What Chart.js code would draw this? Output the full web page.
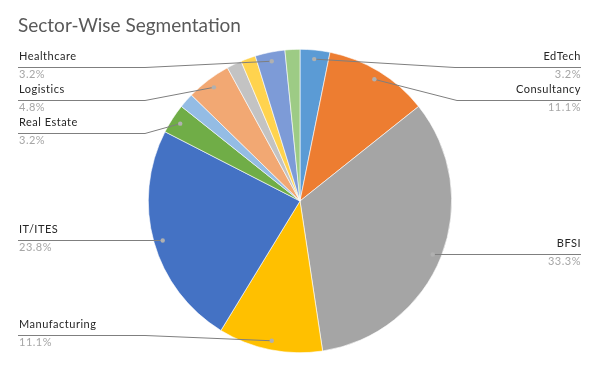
<!DOCTYPE html>
<html>
<head>
<meta charset="utf-8">
<script src="https://cdn.jsdelivr.net/npm/chart.js@4.4.1/dist/chart.umd.min.js"></script>
<style>
  html, body { margin: 0; padding: 0; background: #ffffff; }
  #wrap { width: 600px; height: 371px; position: relative; }
</style>
</head>
<body>
<div id="wrap"><canvas id="c" width="600" height="371"></canvas></div>
<script>
// ---- data (clockwise from 12 o'clock) ----
const categories = ["EdTech", "Consultancy", "BFSI", "Manufacturing", "IT/ITES", "Real Estate",
                    "Other 1", "Logistics", "Other 2", "Other 3", "Healthcare", "Other 4"];
const companyCounts = [2, 7, 21, 7, 15, 2, 1, 3, 1, 1, 2, 1];
const sliceColors = ["#5B9BD5", "#ED7D31", "#A5A5A5", "#FFC000", "#4472C4", "#70AD47",
                     "#94BCE4", "#F2A873", "#C3C3C3", "#FFD34E", "#7D9BD7", "#9DCB85"];
const chartTitle = "Sector-Wise Segmentation";

// label layout (which side, leader line y, bend x)
const labelLayout = {
  "Healthcare":    { side: "L", y: 67,  bend: 145 },
  "Logistics":     { side: "L", y: 100, bend: 145 },
  "Real Estate":   { side: "L", y: 133, bend: 145 },
  "IT/ITES":       { side: "L", y: 240, bend: null },
  "Manufacturing": { side: "L", y: 335, bend: 145 },
  "EdTech":        { side: "R", y: 67,  bend: 455 },
  "Consultancy":   { side: "R", y: 100, bend: 457 },
  "BFSI":          { side: "R", y: 254, bend: null }
};

const FONT = "Lato, 'Open Sans', 'DejaVu Sans', sans-serif";

const labelPlugin = {
  id: 'excelLabels',
  afterDraw(chart) {
    const ctx = chart.ctx;
    const meta = chart.getDatasetMeta(0);
    const total = companyCounts.reduce((a, b) => a + b, 0);
    ctx.save();
    // title
    ctx.fillStyle = '#595959';
    ctx.font = "19px " + FONT;
    ctx.textAlign = 'left';
    ctx.textBaseline = 'alphabetic';
    ctx.fillText(chartTitle, 18, 32);

    meta.data.forEach((arc, i) => {
      const name = categories[i];
      const lay = labelLayout[name];
      if (!lay) return;
      const p = arc.getProps(['x', 'y', 'startAngle', 'endAngle', 'outerRadius'], true);
      const mid = (p.startAngle + p.endAngle) / 2;
      const r = p.outerRadius * 0.94;
      const px = p.x + Math.cos(mid) * r;
      const py = p.y + Math.sin(mid) * r;
      const leftX = 18, rightX = 581;
      const endX = lay.side === 'L' ? leftX : rightX;
      // leader line
      ctx.strokeStyle = '#7F7F7F';
      ctx.lineWidth = 1;
      ctx.beginPath();
      ctx.moveTo(endX, lay.y + 0.5);
      if (lay.bend !== null) {
        ctx.lineTo(lay.bend, lay.y + 0.5);
      }
      ctx.lineTo(px, lay.bend === null ? lay.y + 0.5 : py);
      ctx.stroke();
      ctx.fillStyle = '#B0B0B0';
      ctx.beginPath();
      ctx.arc(px, lay.bend === null ? lay.y + 0.5 : py, 2.2, 0, Math.PI * 2);
      ctx.fill();
      // texts
      ctx.textAlign = lay.side === 'L' ? 'left' : 'right';
      const tx = lay.side === 'L' ? 19 : 581;
      ctx.font = "11px " + FONT;
      try { ctx.letterSpacing = '0.5px'; } catch (e) {}
      ctx.fillStyle = '#262626';
      ctx.fillText(name, tx, lay.y - 7);
      ctx.fillStyle = '#A6A6A6';
      const pct = (companyCounts[i] / total * 100).toFixed(1) + '%';
      ctx.fillText(pct, tx, lay.y + 11);
      try { ctx.letterSpacing = '0px'; } catch (e) {}
    });
    ctx.restore();
  }
};

new Chart(document.getElementById('c'), {
  type: 'pie',
  data: {
    labels: categories,
    datasets: [{
      data: companyCounts,
      backgroundColor: sliceColors,
      borderColor: '#ffffff',
      borderWidth: 0.6
    }]
  },
  options: {
    responsive: false,
    animation: false,
    layout: { padding: { top: 49, bottom: 18, left: 0, right: 0 } },
    plugins: {
      legend: { display: false },
      tooltip: { enabled: false },
      title: { display: false }
    }
  },
  plugins: [labelPlugin]
});
</script>
</body>
</html>
